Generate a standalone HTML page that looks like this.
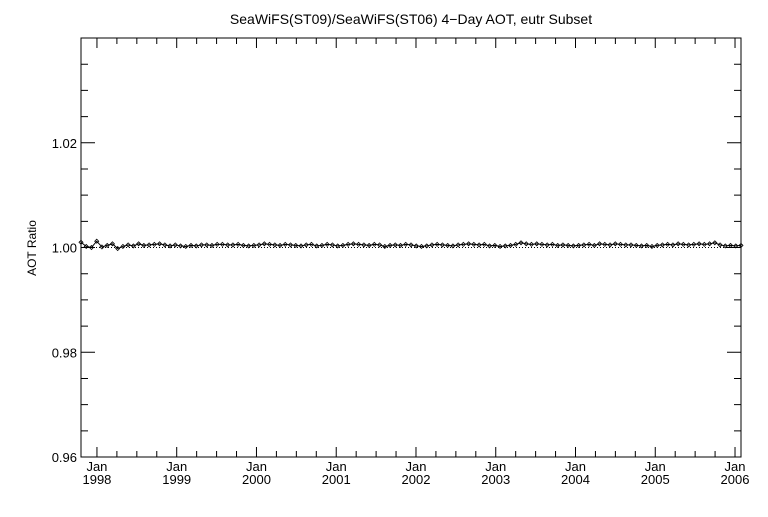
<!DOCTYPE html>
<html><head><meta charset="utf-8"><style>
body{margin:0;background:#fff;}
svg text{font-family:"Liberation Sans",sans-serif;fill:#000;}
</style></head><body>
<svg id="chart" width="768" height="512" xmlns="http://www.w3.org/2000/svg">
<rect width="768" height="512" fill="#fff"/>
<text x="411" y="24" font-size="14" text-anchor="middle">SeaWiFS(ST09)/SeaWiFS(ST06) 4−Day AOT, eutr Subset</text>
<text x="36" y="248" font-size="12" text-anchor="middle" transform="rotate(-90 36 248)">AOT Ratio</text>
<g id="axes"></g>
<g id="series"></g>
</svg>
<script>
const yTickLabels=["0.96","0.98","1.00","1.02"];
const yTickValues=[0.96,0.98,1.00,1.02];
const xYears=[1998,1999,2000,2001,2002,2003,2004,2005,2006];
const ratioValues=[1.0010,1.0002,1.0000,1.0012,1.0001,1.0004,1.0007,0.9998,1.0002,1.0005,1.0003,1.0007,1.0004,1.0005,1.0006,1.0007,
1.0005,1.0003,1.0005,1.0003,1.0002,1.0004,1.0003,1.0005,1.0005,1.0004,1.0006,1.0006,1.0005,1.0005,1.0006,1.0004,
1.0003,1.0004,1.0005,1.0007,1.0006,1.0005,1.0004,1.0006,1.0005,1.0004,1.0003,1.0005,1.0006,1.0003,1.0004,1.0006,
1.0005,1.0003,1.0004,1.0006,1.0007,1.0006,1.0005,1.0004,1.0006,1.0005,1.0002,1.0004,1.0005,1.0004,1.0006,1.0005,
1.0003,1.0002,1.0003,1.0005,1.0006,1.0005,1.0004,1.0003,1.0005,1.0006,1.0007,1.0006,1.0005,1.0006,1.0003,1.0004,
1.0002,1.0003,1.0004,1.0006,1.0009,1.0007,1.0006,1.0007,1.0006,1.0005,1.0006,1.0004,1.0005,1.0004,1.0003,1.0004,
1.0005,1.0006,1.0004,1.0007,1.0006,1.0005,1.0007,1.0006,1.0005,1.0005,1.0004,1.0003,1.0004,1.0002,1.0004,1.0005,
1.0006,1.0005,1.0007,1.0006,1.0005,1.0006,1.0007,1.0006,1.0007,1.0009,1.0005,1.0003,1.0004,1.0003,1.0004];
const NS="http://www.w3.org/2000/svg";
const L=81,R=741,T=38,B=457;
const xMin=1997.8,xMax=2006.075,yMin=0.96,yMax=1.04;
const xs=v=>L+(v-xMin)/(xMax-xMin)*(R-L);
const ys=v=>B-(v-yMin)/(yMax-yMin)*(B-T);
const ax=document.getElementById('axes'),sg=document.getElementById('series');
function mk(tag,at,p){const e=document.createElementNS(NS,tag);for(const k in at)e.setAttribute(k,at[k]);p.appendChild(e);return e;}
let f=mk('rect',{x:L,y:T,width:R-L,height:B-T,fill:'none',stroke:'#000','stroke-width':1},ax);


for(let v=0.96;v<=1.0401;v+=0.005){
  const y=ys(v),major=Math.abs(v*50-Math.round(v*50))<1e-6,len=major?14:7;
  let t=mk('path',{d:`M${L} ${y}h${len}M${R} ${y}h${-len}`,stroke:'#000'},ax);
  
  
}
yTickValues.forEach((v,i)=>{
  let t=mk('text',{x:L-4,y:ys(v)+5,'font-size':13,'text-anchor':'end'},ax);t.textContent=yTickLabels[i];
  
  
});
for(let q=1997.75;q<=xMax;q+=0.25){
  if(q<xMin)continue;
  const x=xs(q),major=Math.abs(q-Math.round(q))<1e-6,len=major?10:6;
  let t=mk('path',{d:`M${x} ${B}v${-len}M${x} ${T}v${len}`,stroke:'#000'},ax);
  
  
}
xYears.forEach(yr=>{
  const x=xs(yr);
  let a=mk('text',{x:x,y:471,'font-size':13,'text-anchor':'middle'},ax);a.textContent='Jan';
  
  
  let b=mk('text',{x:x,y:484,'font-size':13,'text-anchor':'middle'},ax);b.textContent=String(yr);
  
  
});
let ref=mk('line',{x1:L,x2:R,y1:ys(1.0),y2:ys(1.0),stroke:'#000','stroke-dasharray':'1 2'},sg);


const n=ratioValues.length,step=(xMax-xMin)/(n-1);
const pts=ratioValues.map((v,i)=>[xs(xMin+i*step),ys(v)]);
let pl=mk('polyline',{points:pts.map(p=>p.join(',')).join(' '),fill:'none',stroke:'#000','stroke-width':1},sg);


pts.forEach(p=>{
  let d=mk('path',{d:`M${p[0]} ${p[1]-2}l2 2l-2 2l-2 -2z`,fill:'none',stroke:'#000','stroke-width':0.8},sg);
  
  
});
</script>
</body></html>
